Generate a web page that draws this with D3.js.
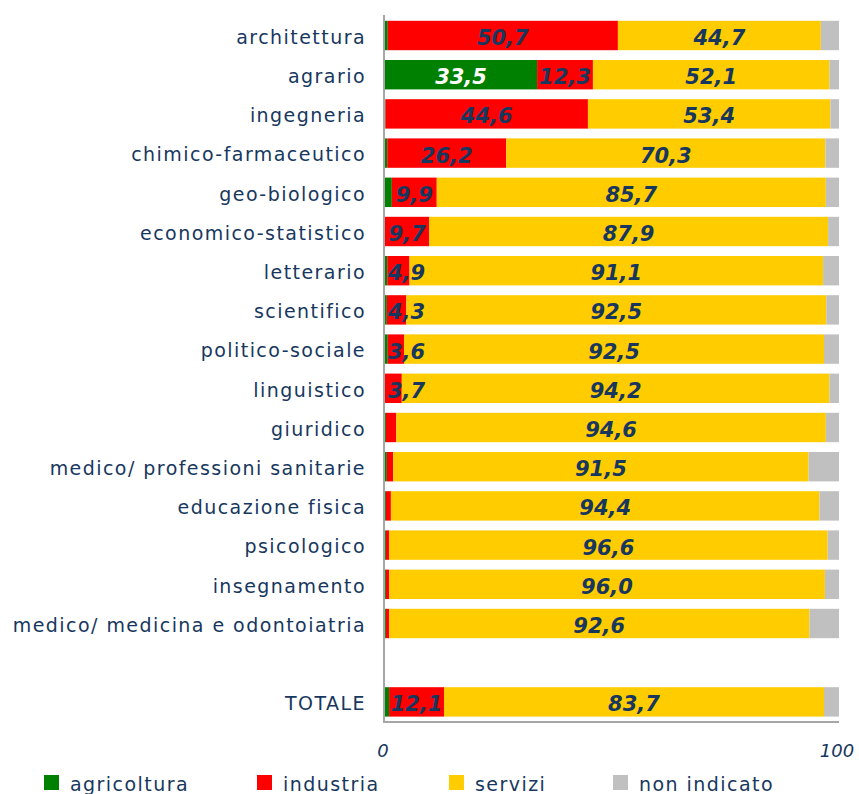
<!DOCTYPE html>
<html>
<head>
<meta charset="utf-8">
<script src="https://cdn.jsdelivr.net/npm/d3@7"></script>
<style>
  html, body { margin: 0; padding: 0; background: #fff; }
  svg { display: block; }
</style>
</head>
<body>
<svg id="chart" width="859" height="794"></svg>
<script>
// Gruppi disciplinari (dall'alto verso il basso); il totale è separato da uno spazio
const categories = [
  "architettura", "agrario", "ingegneria", "chimico-farmaceutico",
  "geo-biologico", "economico-statistico", "letterario", "scientifico",
  "politico-sociale", "linguistico", "giuridico",
  "medico/ professioni sanitarie", "educazione fisica", "psicologico",
  "insegnamento", "medico/ medicina e odontoiatria", "TOTALE"
];

// Settore di attività (valori percentuali)
const agricoltura = [0.6, 33.5, 0.1, 0.5, 1.5, 0.0, 0.5, 0.4, 0.6, 0.0, 0.2, 0.4, 0.2, 0.2, 0.2, 0.2, 0.9];
const industria   = [50.7, 12.3, 44.6, 26.2, 9.9, 9.7, 4.9, 4.3, 3.6, 3.7, 2.3, 1.4, 1.1, 0.7, 0.7, 0.7, 12.1];
const servizi     = [44.7, 52.1, 53.4, 70.3, 85.7, 87.9, 91.1, 92.5, 92.5, 94.2, 94.6, 91.5, 94.4, 96.6, 96.0, 92.6, 83.7];
const nonIndicato = [4.0, 2.1, 1.9, 3.0, 2.9, 2.4, 3.5, 2.8, 3.3, 2.1, 2.9, 6.7, 4.3, 2.5, 3.1, 6.5, 3.3];

const seriesNames = ["agricoltura", "industria", "servizi", "non indicato"];
const seriesValues = [agricoltura, industria, servizi, nonIndicato];
const seriesColors = ["#008000", "#ff0000", "#ffcc00", "#c0c0c0"];
const labelColors  = ["#ffffff", "#17375e", "#17375e", null];

const xTicks = [0, 100];

const navy = "#17375e";
const svg = d3.select("#chart");

// Righe: un vuoto prima del totale
const SPACER = "__spazio__";
const rowKeys = categories.slice(0, -1).concat([SPACER, categories[categories.length - 1]]);

const x = d3.scaleLinear().domain([0, 100]).range([385, 839]);
const y = d3.scaleBand().domain(rowKeys).range([15.9, 721.5])
  .paddingInner(0.25).paddingOuter(0.125);

// Dati impilati
const table = categories.map((c, i) => {
  const row = { categoria: c };
  seriesNames.forEach((s, k) => { row[s] = seriesValues[k][i]; });
  return row;
});
const stacked = d3.stack().keys(seriesNames)(table);

const fmt = v => d3.format(".1f")(v).replace(".", ",");

// Barre
const layers = svg.append("g").selectAll("g")
  .data(stacked).join("g")
  .attr("fill", (d, k) => seriesColors[k]);

layers.selectAll("rect")
  .data(d => d)
  .join("rect")
  .attr("x", d => x(d[0]))
  .attr("y", d => y(d.data.categoria))
  .attr("width", d => Math.max(0, x(d[1]) - x(d[0])))
  .attr("height", y.bandwidth());

// Assi
svg.append("line")
  .attr("x1", x(0) - 1).attr("x2", x(0) - 1)
  .attr("y1", 15).attr("y2", 722)
  .attr("stroke", "#a6a6a6").attr("stroke-width", 2);
svg.append("line")
  .attr("x1", x(0) - 2).attr("x2", x(100))
  .attr("y1", 722).attr("y2", 722)
  .attr("stroke", "#a6a6a6").attr("stroke-width", 2);

// Etichette delle categorie
svg.append("g").selectAll("text")
  .data(categories).join("text")
  .attr("x", 366)
  .attr("y", d => y(d) + y.bandwidth() / 2)
  .attr("dy", "0.44em")
  .attr("text-anchor", "end")
  .attr("font-family", "DejaVu Sans, Verdana, sans-serif")
  .attr("font-size", 19)
  .attr("letter-spacing", "1.45px")
  .attr("fill", navy)
  .text(d => d);

// Etichette dei valori
const labelG = svg.append("g");
stacked.forEach((layer, k) => {
  if (!labelColors[k]) return;
  layer.forEach(d => {
    const v = d[1] - d[0];
    if (v < 3) return;
    const t = labelG.append("text")
      .attr("y", y(d.data.categoria) + y.bandwidth() / 2)
      .attr("dy", "0.45em")
      .attr("font-family", "DejaVu Sans, Verdana, sans-serif")
      .attr("font-size", 21)
      .attr("font-weight", "bold")
      .attr("font-style", "italic")
      .attr("fill", labelColors[k])
      .text(fmt(v));
    const w = t.node().getComputedTextLength();
    const cx = (x(d[0]) + x(d[1])) / 2;
    t.attr("x", Math.max(cx - w / 2, x(0) + 3));
  });
});

// Valori dell'asse x
svg.append("g").selectAll("text")
  .data(xTicks).join("text")
  .attr("x", d => x(d) - 2)
  .attr("y", 757)
  .attr("text-anchor", "middle")
  .attr("font-family", "DejaVu Sans, Verdana, sans-serif")
  .attr("font-size", 18)
  .attr("font-style", "italic")
  .attr("fill", navy)
  .text(d => d);

// Legenda
const legendX = [44, 257, 449, 613];
const legend = svg.append("g").selectAll("g")
  .data(seriesNames).join("g")
  .attr("transform", (d, k) => `translate(${legendX[k]},775)`);
legend.append("rect")
  .attr("width", 15).attr("height", 15)
  .attr("fill", (d, k) => seriesColors[k]);
legend.append("text")
  .attr("x", 26).attr("y", 16)
  .attr("font-family", "DejaVu Sans, Verdana, sans-serif")
  .attr("font-size", 19)
  .attr("letter-spacing", "1.45px")
  .attr("fill", navy)
  .text(d => d);
</script>
</body>
</html>
